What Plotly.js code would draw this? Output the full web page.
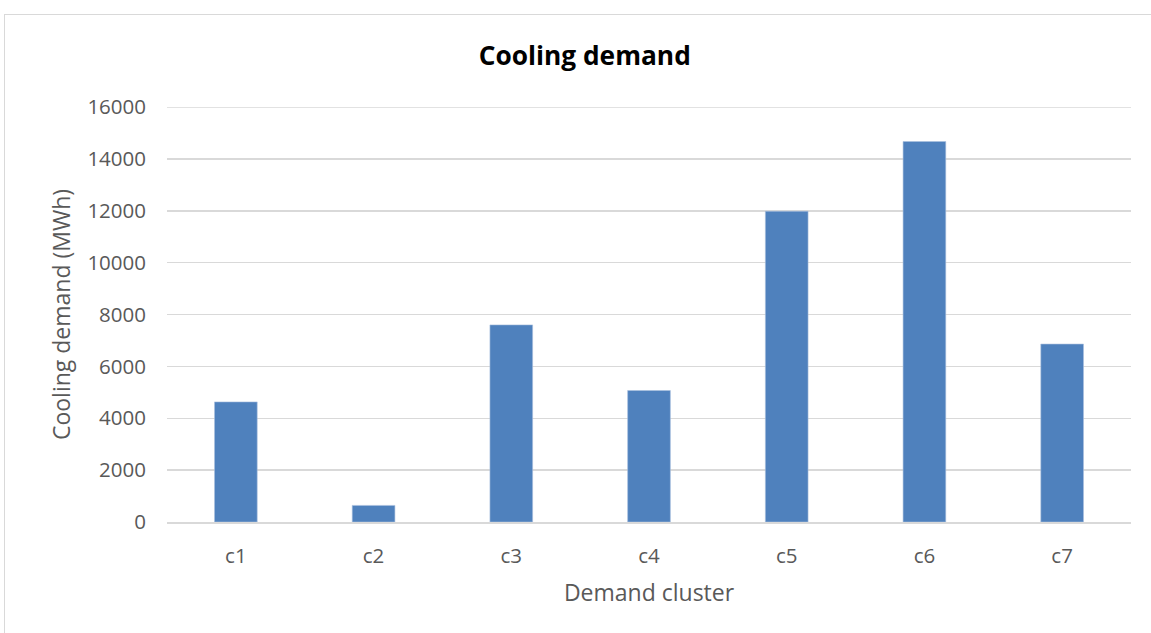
<!DOCTYPE html>
<html>
<head>
<meta charset="utf-8">
<script src="https://cdn.plot.ly/plotly-3.0.1.min.js"></script>
<style>
  html, body { margin: 0; padding: 0; background: #ffffff; overflow: hidden; }
  #chart { width: 1151px; height: 633px; position: absolute; left: 0; top: 0; }
  #frame { position: absolute; left: 4px; top: 14px; width: 1160px; height: 640px; border: 1px solid #d9d9d9; pointer-events: none; }
</style>
</head>
<body>
<div id="chart"></div>
<div id="frame"></div>
<script>
const categories = ["c1", "c2", "c3", "c4", "c5", "c6", "c7"];
const coolingDemand = [4630, 640, 7600, 5070, 11980, 14670, 6860];
const yTickValues = [0, 2000, 4000, 6000, 8000, 10000, 12000, 14000, 16000];

const font = "'Open Sans', 'Noto Sans', sans-serif";

const trace = {
  type: "bar",
  x: categories,
  y: coolingDemand,
  marker: { color: "#4f81bd", line: { color: "#a9c0de", width: 0.6 } },
  hoverinfo: "x+y"
};

const layout = {
  width: 1151,
  height: 633,
  paper_bgcolor: "#ffffff",
  plot_bgcolor: "#ffffff",
  margin: { l: 167, r: 20, t: 107, b: 111 },
  bargap: 0.69,
  showlegend: false,
  title: {
    text: "<b>Cooling demand</b>",
    font: { family: font, size: 26.3, color: "#000000" },
    x: 0.508, xanchor: "center",
    y: 1 - 56 / 633, yanchor: "middle"
  },
  shapes: [{
    type: "line", xref: "paper", yref: "y",
    x0: 0, x1: 1, y0: yTickValues[yTickValues.length - 1], y1: yTickValues[yTickValues.length - 1],
    line: { color: "#d9d9d9", width: 1.5 }, layer: "below"
  }],
  xaxis: {
    type: "category",
    tickfont: { family: font, size: 20.5, color: "#595959" },
    ticks: "",
    ticklabelstandoff: 15,
    showgrid: false,
    showline: true,
    linecolor: "#d9d9d9",
    linewidth: 1.5,
    title: { text: "Demand cluster", font: { family: font, size: 23, color: "#595959" }, standoff: 17 },
    automargin: false
  },
  yaxis: {
    range: [0, 16000],
    tickvals: yTickValues,
    ticktext: yTickValues.map(String),
    tickfont: { family: font, size: 20.5, color: "#595959" },
    ticks: "",
    ticklabelstandoff: 20,
    showgrid: true,
    gridcolor: "#d9d9d9",
    gridwidth: 1.5,
    zeroline: false,
    showline: false,
    title: { text: "Cooling demand (MWh)", font: { family: font, size: 23, color: "#595959" }, standoff: 10 },
    automargin: false
  }
};

Plotly.newPlot("chart", [trace], layout, { displayModeBar: false, staticPlot: true });
</script>
</body>
</html>
